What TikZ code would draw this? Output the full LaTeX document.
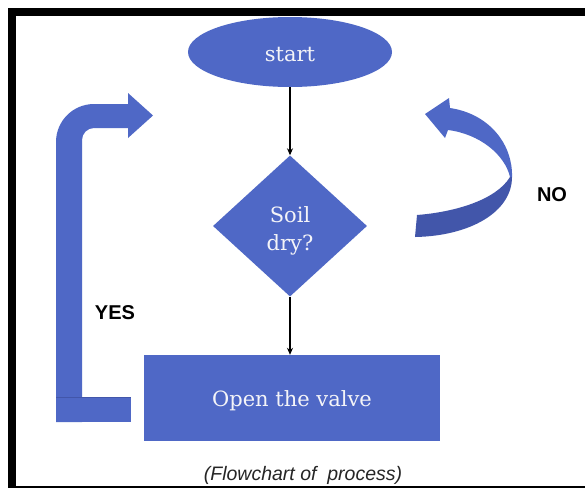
\documentclass[tikz,border=0pt]{standalone}
\usepackage{fontspec}
\setmainfont{DejaVu Serif}
\newfontfamily\labelfont{Liberation Sans}
\usetikzlibrary{shapes.geometric,arrows.meta}
\definecolor{boxblue}{RGB}{79,104,198}
\definecolor{darkblue}{RGB}{66,86,170}
\definecolor{textwhite}{RGB}{244,244,248}
\tikzset{
  shapetext/.style={text=textwhite, font=\fontsize{21}{28}\selectfont, inner sep=0pt},
  startshape/.style={ellipse, fill=boxblue, minimum width=204pt, minimum height=70pt, shapetext},
  decision/.style={diamond, fill=boxblue, minimum width=154pt, minimum height=141pt, shapetext},
  process/.style={rectangle, fill=boxblue, minimum width=296pt, minimum height=86pt, shapetext},
  flow/.style={draw=black, line width=1.4pt, -{Stealth[length=7pt,width=6pt]}},
  lbl/.style={font=\labelfont\bfseries\fontsize{20}{24}\selectfont, text=black, inner sep=0pt},
  caption/.style={font=\labelfont\itshape\fontsize{19.5}{24}\selectfont, text=black!85, inner sep=0pt},
  bigarrow/.style={fill=boxblue},
}
\begin{document}
\begin{tikzpicture}[x=1pt,y=-1pt]
\useasboundingbox (0,0) rectangle (585,488);
\fill[white] (0,0) rectangle (585,488);
% frame
\fill[black] (8,8) rectangle (585,488);
\fill[white] (16,15.5) rectangle (585,485.5);

% main nodes
\node[startshape] (start) at (290,52) {\raisebox{-9pt}[0pt][0pt]{start}};
\node[decision] (dry) at (290,226) {\raisebox{-24pt}[0pt][0pt]{\begin{tabular}[b]{@{}c@{}}Soil\\dry?\end{tabular}}};
\node[process] (valve) at (292,398) {\raisebox{-8.5pt}[0pt][0pt]{Open the valve}};

% connectors
\draw[flow] (start.south) -- (dry.north);
\draw[flow] (dry.south) -- (dry.south |- valve.north);

% YES loop arrow (left)
\fill[bigarrow] (56,422) -- (56,142) arc[start angle=180, end angle=270, radius=38] -- (128,104) -- (128,93)
  -- (153,115.5) -- (128,138) -- (128,128) -- (94,128) arc[start angle=270, end angle=180, radius=12] -- (82,422) -- cycle;
\fill[bigarrow] (56,397) rectangle (131,422);
\draw[darkblue, line width=0.6pt] (56,397) -- (131,397);

% NO curved arrow (right)
\fill[boxblue] (510,177) .. controls (505,155) and (480,134) .. (448,130) -- (445,138) -- (425,114) -- (449,98) -- (450,108)
  .. controls (490,114) and (513,145) .. (512,177) -- cycle;
\fill[darkblue] (417,215) .. controls (455,212) and (496,200) .. (510,177) -- (512,177)
  .. controls (512,212) and (470,236) .. (415,237) -- cycle;

% labels
\node[lbl] (yes) at (115,313) {YES};
\node[lbl] (no) at (552,195) {NO};
\node[caption] (cap) at (303,475) {(Flowchart of\ \ process)};
\end{tikzpicture}
\end{document}
